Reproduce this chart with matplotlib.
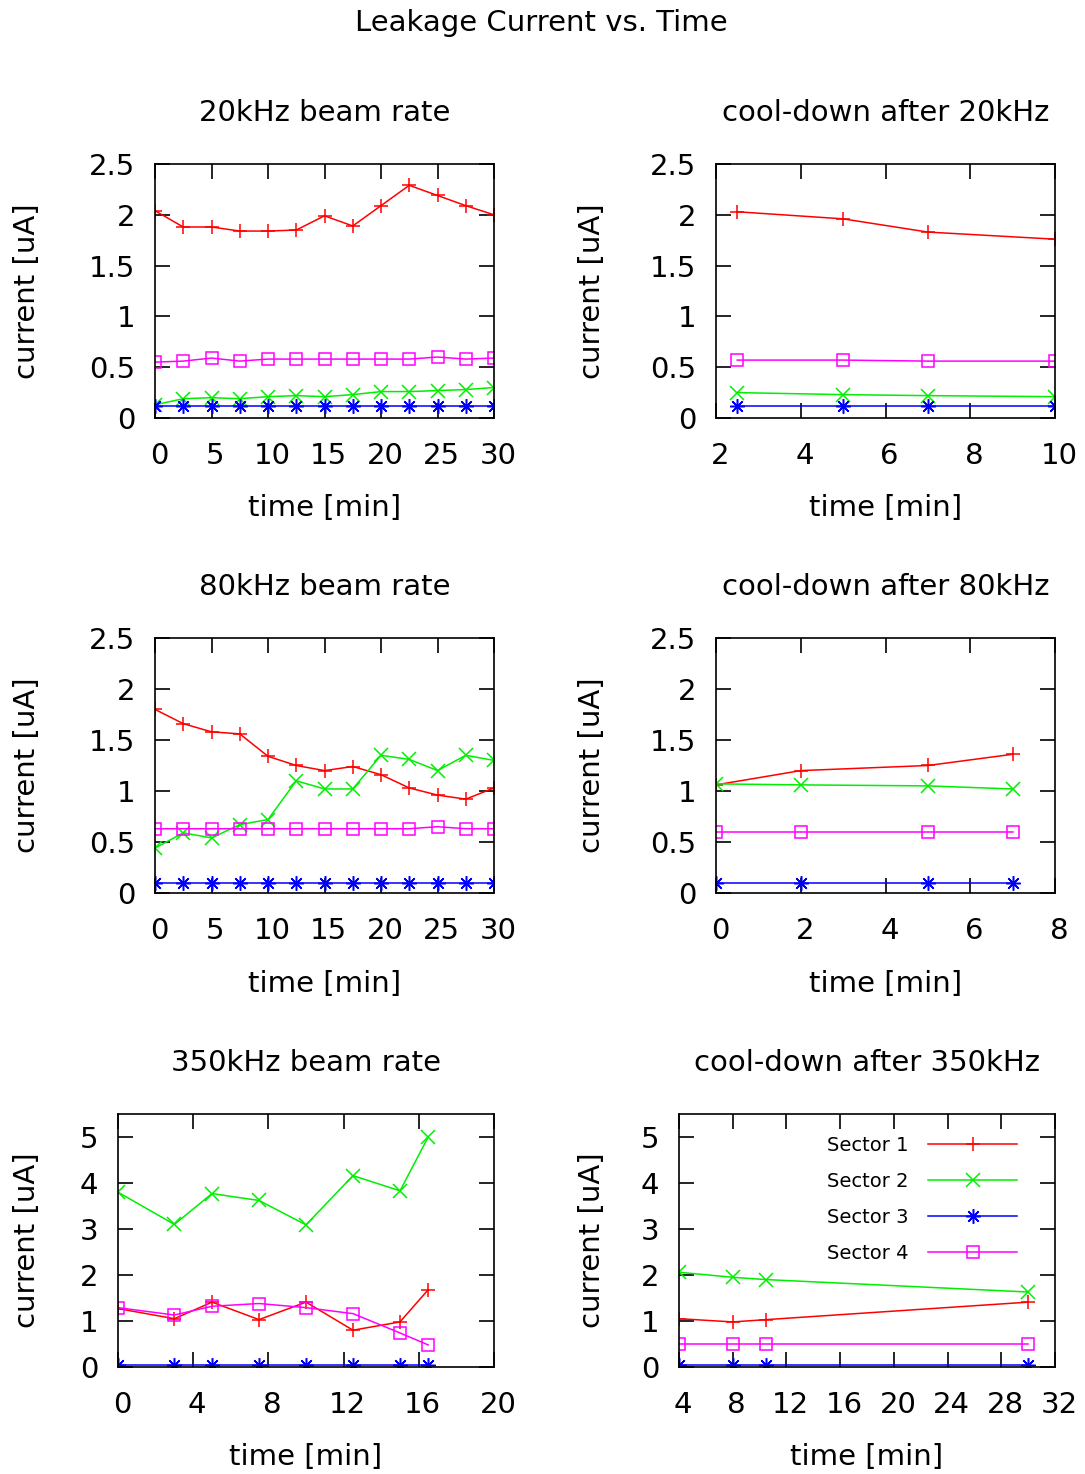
import matplotlib
matplotlib.use("Agg")
import matplotlib.pyplot as plt
import matplotlib.transforms as mtransforms

# ---- data (current in uA, time in min) ----
t_20k = [0, 2.5, 5, 7.5, 10, 12.5, 15, 17.5, 20, 22.5, 25, 27.5, 30]
s1_20k = [2.04, 1.88, 1.88, 1.84, 1.84, 1.85, 1.99, 1.89, 2.09, 2.29, 2.19, 2.09, 2.0]
s2_20k = [0.13, 0.19, 0.2, 0.19, 0.21, 0.22, 0.21, 0.23, 0.26, 0.26, 0.27, 0.28, 0.3]
s3_20k = [0.12, 0.12, 0.12, 0.12, 0.12, 0.12, 0.12, 0.12, 0.12, 0.12, 0.12, 0.12, 0.12]
s4_20k = [0.55, 0.56, 0.59, 0.56, 0.58, 0.58, 0.58, 0.58, 0.58, 0.58, 0.6, 0.58, 0.59]

t_cool20k = [2.5, 5, 7, 10]
s1_cool20k = [2.03, 1.96, 1.83, 1.76]
s2_cool20k = [0.25, 0.23, 0.22, 0.21]
s3_cool20k = [0.12, 0.12, 0.12, 0.12]
s4_cool20k = [0.57, 0.57, 0.56, 0.56]

t_80k = [0, 2.5, 5, 7.5, 10, 12.5, 15, 17.5, 20, 22.5, 25, 27.5, 30]
s1_80k = [1.8, 1.66, 1.58, 1.56, 1.34, 1.25, 1.2, 1.24, 1.16, 1.03, 0.96, 0.92, 1.03]
s2_80k = [0.44, 0.59, 0.54, 0.67, 0.72, 1.1, 1.02, 1.02, 1.35, 1.31, 1.2, 1.35, 1.3]
s3_80k = [0.1, 0.1, 0.1, 0.1, 0.1, 0.1, 0.1, 0.1, 0.1, 0.1, 0.1, 0.1, 0.1]
s4_80k = [0.63, 0.63, 0.63, 0.63, 0.63, 0.63, 0.63, 0.63, 0.63, 0.63, 0.65, 0.63, 0.63]

t_cool80k = [0, 2, 5, 7]
s1_cool80k = [1.06, 1.2, 1.25, 1.36]
s2_cool80k = [1.07, 1.06, 1.05, 1.02]
s3_cool80k = [0.1, 0.1, 0.1, 0.1]
s4_cool80k = [0.6, 0.6, 0.6, 0.6]

t_350k = [0, 3, 5, 7.5, 10, 12.5, 15, 16.5]
s1_350k = [1.27, 1.05, 1.41, 1.03, 1.41, 0.8, 0.98, 1.68]
s2_350k = [3.8, 3.1, 3.77, 3.62, 3.09, 4.16, 3.83, 5.0]
s3_350k = [0.05, 0.05, 0.05, 0.05, 0.05, 0.05, 0.05, 0.05]
s4_350k = [1.29, 1.13, 1.32, 1.38, 1.29, 1.16, 0.74, 0.48]

t_cool350k = [4, 8, 10.5, 30]
s1_cool350k = [1.05, 0.98, 1.03, 1.41]
s2_cool350k = [2.06, 1.95, 1.9, 1.63]
s3_cool350k = [0.05, 0.05, 0.05, 0.05]
s4_cool350k = [0.49, 0.49, 0.49, 0.49]

sector_names = ["Sector 1", "Sector 2", "Sector 3", "Sector 4"]
colors = ["#ff0000", "#00ee00", "#0000ff", "#ff00ff"]
markers = ["+", "x", (8, 2, 0), "s"]

panels = [
    # title, t, series, xlim, xticks, ylim, yticks, axes rect in pixels (left, top, right, bottom)
    ("20kHz beam rate", t_20k, [s1_20k, s2_20k, s3_20k, s4_20k],
     (0, 30), [0, 5, 10, 15, 20, 25, 30], (0, 2.5), [0, 0.5, 1, 1.5, 2, 2.5], (155, 164, 494, 418)),
    ("cool-down after 20kHz", t_cool20k, [s1_cool20k, s2_cool20k, s3_cool20k, s4_cool20k],
     (2, 10), [2, 4, 6, 8, 10], (0, 2.5), [0, 0.5, 1, 1.5, 2, 2.5], (716, 164, 1055, 418)),
    ("80kHz beam rate", t_80k, [s1_80k, s2_80k, s3_80k, s4_80k],
     (0, 30), [0, 5, 10, 15, 20, 25, 30], (0, 2.5), [0, 0.5, 1, 1.5, 2, 2.5], (155, 638, 494, 893)),
    ("cool-down after 80kHz", t_cool80k, [s1_cool80k, s2_cool80k, s3_cool80k, s4_cool80k],
     (0, 8), [0, 2, 4, 6, 8], (0, 2.5), [0, 0.5, 1, 1.5, 2, 2.5], (716, 638, 1055, 893)),
    ("350kHz beam rate", t_350k, [s1_350k, s2_350k, s3_350k, s4_350k],
     (0, 20), [0, 4, 8, 12, 16, 20], (0, 5.5), [0, 1, 2, 3, 4, 5], (118, 1114, 494, 1367)),
    ("cool-down after 350kHz", t_cool350k, [s1_cool350k, s2_cool350k, s3_cool350k, s4_cool350k],
     (4, 32), [4, 8, 12, 16, 20, 24, 28, 32], (0, 5.5), [0, 1, 2, 3, 4, 5], (679, 1114, 1055, 1367)),
]

W, H = 1085, 1474
plt.rcParams["font.family"] = "DejaVu Sans"
plt.rcParams["font.size"] = 21
fig = plt.figure(figsize=(W / 100, H / 100), dpi=100)
fig.text(541 / W, 1 - 23 / H, "Leakage Current vs. Time", ha="center", va="center", fontsize=21)

# gnuplot puts the x tick labels a few pixels right of the tick
shift = mtransforms.ScaledTranslation(4 / 100, 0, fig.dpi_scale_trans)

for i, (title, t, series, xlim, xticks, ylim, yticks, rect) in enumerate(panels):
    l, tp, r, b = rect
    ax = fig.add_axes([l / W, 1 - b / H, (r - l) / W, (b - tp) / H])
    for s, name, c, m in zip(series, sector_names, colors, markers):
        ax.plot(t, s, color=c, marker=m, markersize=10.5 if m != "s" else 8.5,
                markerfacecolor="none", markeredgecolor=c, markeredgewidth=1.1,
                linewidth=1.1, label=name)
    ax.set_xlim(*xlim)
    ax.set_ylim(*ylim)
    ax.set_xticks(xticks)
    ax.set_yticks(yticks)
    ax.set_yticklabels([f"{v:g}" for v in yticks])
    ax.tick_params(direction="in", top=True, right=True, length=11, width=1.2,
                   labelsize=21, pad=14)
    ax.tick_params(axis="x", pad=17)
    for lab in ax.get_xticklabels():
        lab.set_transform(lab.get_transform() + shift)
    for sp in ax.spines.values():
        sp.set_linewidth(1.2)
    ax.set_title(title, fontsize=21, pad=31)
    ax.set_xlabel("time [min]", fontsize=21)
    ax.set_ylabel("current [uA]", fontsize=21)
    ax.xaxis.set_label_coords(0.5, -0.3)
    ax.yaxis.set_label_coords((41 if i % 2 == 0 else 606) / (r - l) - l / (r - l), 0.5)
    if i == 5:
        ax.legend(loc="upper right", bbox_to_anchor=(1 - 30 / (r - l), 1 - 14 / (b - tp)),
                  frameon=False, markerfirst=False, fontsize=14, handlelength=4.6,
                  handletextpad=1.0, labelspacing=0.88, borderaxespad=0)

fig.savefig("out.png", dpi=100)
